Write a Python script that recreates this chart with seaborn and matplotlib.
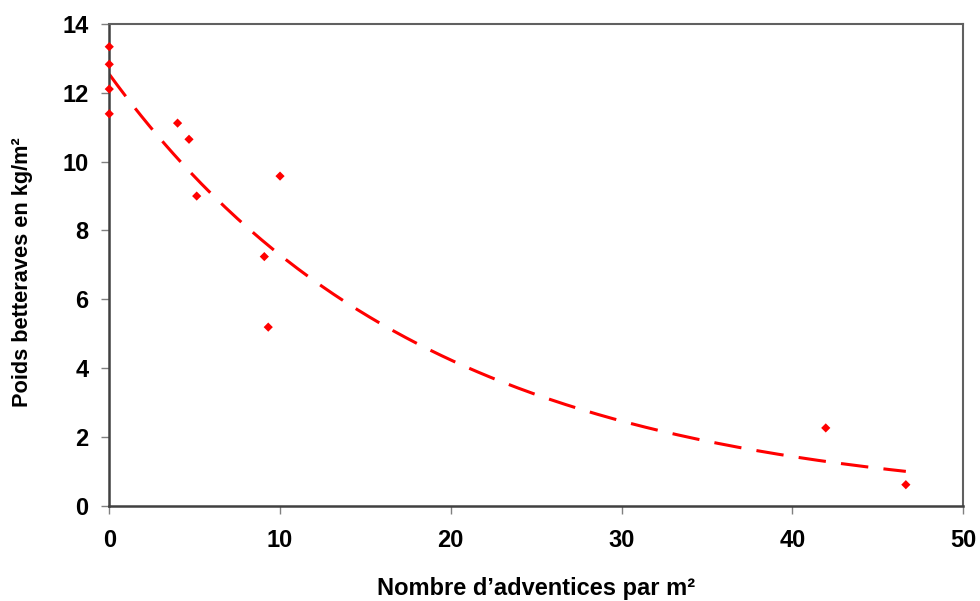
import numpy as np
import pandas as pd
import seaborn as sns
import matplotlib
matplotlib.use("Agg")
import matplotlib.pyplot as plt

# Data
adventices = [0, 0, 0, 0, 4.0, 4.67, 5.12, 10.0, 9.08, 9.31, 41.96, 46.65]
poids = [13.34, 12.83, 12.11, 11.39, 11.12, 10.65, 9.0, 9.58, 7.24, 5.19, 2.26, 0.61]
x_ticks = [0, 10, 20, 30, 40, 50]
y_ticks = [0, 2, 4, 6, 8, 10, 12, 14]

df = pd.DataFrame({"x": adventices, "y": poids})

sns.set_theme(style="white")
plt.rcParams["font.family"] = ["Liberation Sans", "DejaVu Sans"]
plt.rcParams["text.color"] = "black"
plt.rcParams["axes.labelcolor"] = "black"
plt.rcParams["xtick.color"] = "black"
plt.rcParams["ytick.color"] = "black"

fig = plt.figure(figsize=(9.8, 6.01), dpi=100)
ax = fig.add_axes([0.1115, 0.1586, 0.8712, 0.8014])

# Exponential trendline (log-linear least squares, like a spreadsheet trendline)
b, ln_a = np.polyfit(df["x"], np.log(df["y"]), 1)
xs = np.linspace(0, max(adventices), 200)
trend = pd.DataFrame({"x": xs, "y": np.exp(ln_a) * np.exp(b * xs)})
sns.lineplot(data=trend, x="x", y="y", ax=ax, color="#ff0000", lw=2.2,
             dashes=False)
ax.lines[-1].set_dashes([9, 5])

sns.scatterplot(data=df, x="x", y="y", ax=ax, color="#ff0000", marker="D",
                s=22, edgecolor="none", zorder=5, clip_on=False)

ax.set_xlim(0, 50)
ax.set_ylim(0, 14)
ax.set_xticks(x_ticks)
ax.set_yticks(y_ticks)
ax.tick_params(axis="both", which="major", direction="out", length=6,
               width=1, color="#808080", labelcolor="black", labelsize=17,
               bottom=True, left=True)
ax.tick_params(axis="x", pad=11)
ax.tick_params(axis="y", pad=9)
for lab in ax.get_xticklabels() + ax.get_yticklabels():
    lab.set_fontweight("bold")

for side in ["left", "bottom"]:
    ax.spines[side].set_color("#404040")
    ax.spines[side].set_linewidth(1.8)
for side in ["top", "right"]:
    ax.spines[side].set_color("#606060")
    ax.spines[side].set_linewidth(1.5)

ax.set_xlabel("Nombre d\u2019adventices par m\u00b2", fontsize=17, fontweight="bold",
              labelpad=18, color="black")
ax.set_ylabel("Poids betteraves en kg/m\u00b2", fontsize=15.7, fontweight="bold",
              color="black")
ax.yaxis.set_label_coords(-0.089, 0.485)

fig.savefig("out.png", dpi=100, facecolor="white")
